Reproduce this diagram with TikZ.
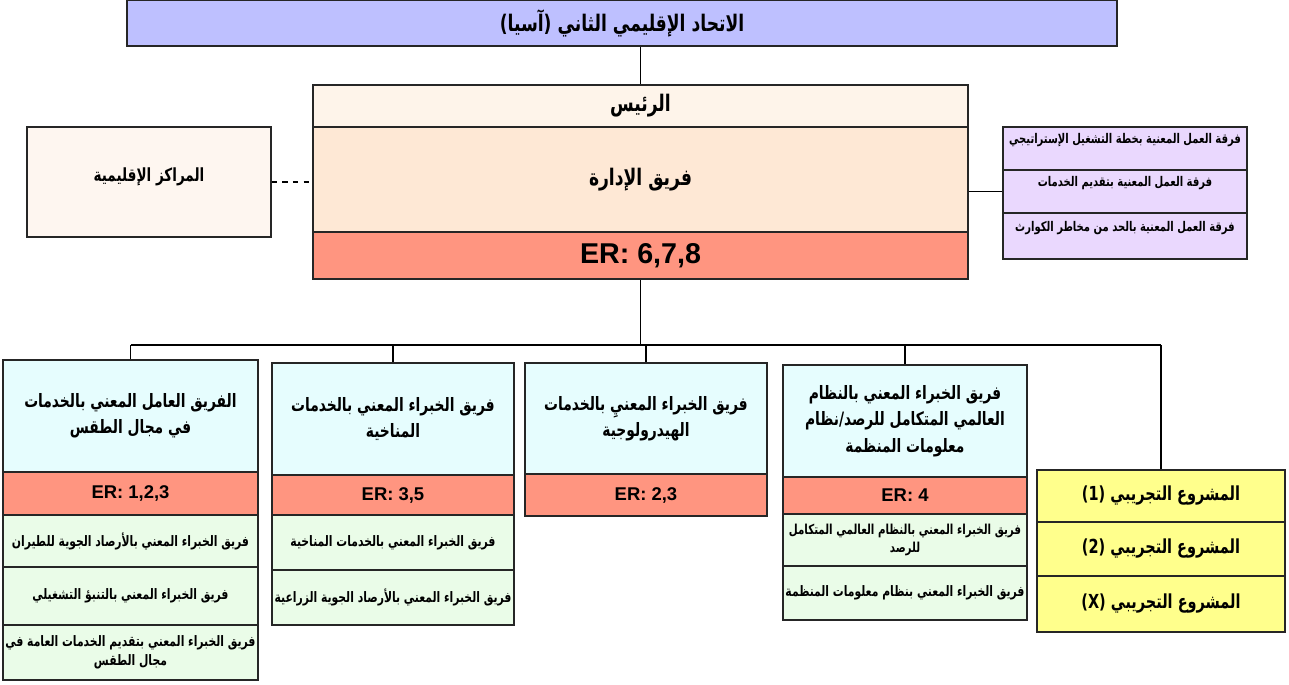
\documentclass[tikz,border=0pt]{standalone}
\usepackage{fontspec}
\setmainfont{Liberation Sans}
\newfontfamily\arabicfont[Script=Arabic, FakeStretch=0.75]{DejaVu Sans}
\TeXXeTstate=1
\newcommand{\ar}[1]{{\arabicfont\beginR #1\endR}}
\definecolor{unicol}{RGB}{190,192,255}
\definecolor{chaircol}{RGB}{254,244,234}
\definecolor{mgmtcol}{RGB}{254,232,213}
\definecolor{ercol}{RGB}{255,149,128}
\definecolor{rccol}{RGB}{254,246,240}
\definecolor{tfcol}{RGB}{234,216,254}
\definecolor{teamcol}{RGB}{230,253,254}
\definecolor{subcol}{RGB}{234,252,232}
\definecolor{pilotcol}{RGB}{255,255,140}
\tikzset{
  box/.style 2 args={draw=black!85, minimum width=#1*0.02cm, minimum height=#2*0.02cm,
    inner sep=1pt, align=center},
  erbox/.style={fill=ercol, font=\bfseries\fontsize{10.5}{12}\selectfont},
  teambox/.style={fill=teamcol, font=\bfseries\fontsize{10.5}{15}\selectfont},
  subbox/.style={fill=subcol, font=\bfseries\fontsize{8.2}{10.5}\selectfont},
  tfbox/.style={fill=tfcol, font=\bfseries\fontsize{7.6}{9}\selectfont, text depth=11pt},
  pilotbox/.style={fill=pilotcol, font=\bfseries\fontsize{11}{13}\selectfont}
}
\begin{document}
\begin{tikzpicture}[x=0.02cm, y=-0.02cm, line width=1pt]
  \useasboundingbox (0,0) rectangle (1289,685);
  % top of the chart
  \node[box={990}{46}, fill=unicol, font=\bfseries\fontsize{13}{16}\selectfont] (uni) at (622,23) {\ar{الاتحاد الإقليمي الثاني (آسيا)}};
  \node[box={655}{42}, fill=chaircol, font=\bfseries\fontsize{13}{14}\selectfont] (chair) at (640.5,106) {\ar{الرئيس}};
  \node[box={655}{105}, fill=mgmtcol, font=\bfseries\fontsize{13}{14}\selectfont] (mgmt) at (640.5,179.5) {\ar{فريق الإدارة}};
  \node[box={655}{47}, fill=ercol, font=\bfseries\fontsize{16.3}{18}\selectfont] (er0) at (640.5,255.5) {ER: 6,7,8};
  \node[box={244}{110}, fill=rccol, font=\bfseries\fontsize{10.3}{12}\selectfont, text depth=8pt] (rc) at (149,182) {\ar{المراكز الإقليمية}};
  % task forces
  \node[box={244}{43}, tfbox] (tf1) at (1125,148.5) {\ar{فرقة العمل المعنية بخطة التشغيل الإستراتيجي}};
  \node[box={244}{43}, tfbox] (tf2) at (1125,191.5) {\ar{فرقة العمل المعنية بتقديم الخدمات}};
  \node[box={244}{46}, tfbox] (tf3) at (1125,236) {\ar{فرقة العمل المعنية بالحد من مخاطر الكوارث}};
  % working group on weather services
  \node[box={255}{112}, teambox] (h1) at (130.5,416) {\ar{الفريق العامل المعني بالخدمات}\\\ar{في مجال الطقس}};
  \node[box={255}{43}, erbox] (er1) at (130.5,493.5) {ER: 1,2,3};
  \node[box={255}{52}, subbox] (g11) at (130.5,541) {\ar{فريق الخبراء المعني بالأرصاد الجوية للطيران}};
  \node[box={255}{58}, subbox] (g12) at (130.5,596) {\ar{فريق الخبراء المعني بالتنبؤ التشغيلي}};
  \node[box={255}{55}, subbox] (g13) at (130.5,652.5) {\ar{فريق الخبراء المعني بتقديم الخدمات العامة في}\\\ar{مجال الطقس}};
  % climate services
  \node[box={242}{112}, teambox] (h2) at (393,419) {\ar{فريق الخبراء المعني بالخدمات}\\\ar{المناخية}};
  \node[box={242}{40}, erbox] (er2) at (393,495) {ER: 3,5};
  \node[box={242}{55}, subbox] (g21) at (393,542.5) {\ar{فريق الخبراء المعني بالخدمات المناخية}};
  \node[box={242}{55}, subbox] (g22) at (393,597.5) {\ar{فريق الخبراء المعني بالأرصاد الجوية الزراعية}};
  % hydrological services
  \node[box={242}{111}, teambox] (h3) at (646,418.5) {\ar{فريق الخبراء المعنيِ بالخدمات}\\\ar{الهيدرولوجية}};
  \node[box={242}{42}, erbox] (er3) at (646,495) {ER: 2,3};
  % WIGOS / WIS
  \node[box={244}{112}, teambox] (h4) at (905,421) {\ar{فريق الخبراء المعني بالنظام}\\\ar{العالمي المتكامل للرصد/نظام}\\\ar{معلومات المنظمة}};
  \node[box={244}{37}, erbox] (er4) at (905,495.5) {ER: 4};
  \node[box={244}{52}, subbox, font=\bfseries\fontsize{7.8}{10.5}\selectfont] (g41) at (905,540) {\ar{فريق الخبراء المعني بالنظام العالمي المتكامل}\\\ar{للرصد}};
  \node[box={244}{54}, subbox] (g42) at (905,593) {\ar{فريق الخبراء المعني بنظام معلومات المنظمة}};
  % pilot projects
  \node[box={248}{52}, pilotbox] (p1) at (1161,496) {\ar{المشروع التجريبي \beginL(1)\endL}};
  \node[box={248}{54}, pilotbox] (p2) at (1161,549) {\ar{المشروع التجريبي \beginL(2)\endL}};
  \node[box={248}{56}, pilotbox] (p3) at (1161,604) {\ar{المشروع التجريبي \beginL(X)\endL}};
  % connectors
  \coordinate (bus) at (0,345);
  \draw (uni.south -| chair.north) -- (chair.north);
  \draw[dashed] (rc.east) -- (rc.east -| mgmt.west);
  \draw (tf2.west) -- (tf2.west -| mgmt.east);
  \draw (er0.south) -- (er0.south |- bus);
  \draw (h1.north |- bus) -- (p1.north |- bus);
  \foreach \n in {h1,h2,h3,h4,p1}
    \draw (\n.north) -- (\n.north |- bus);
\end{tikzpicture}
\end{document}
